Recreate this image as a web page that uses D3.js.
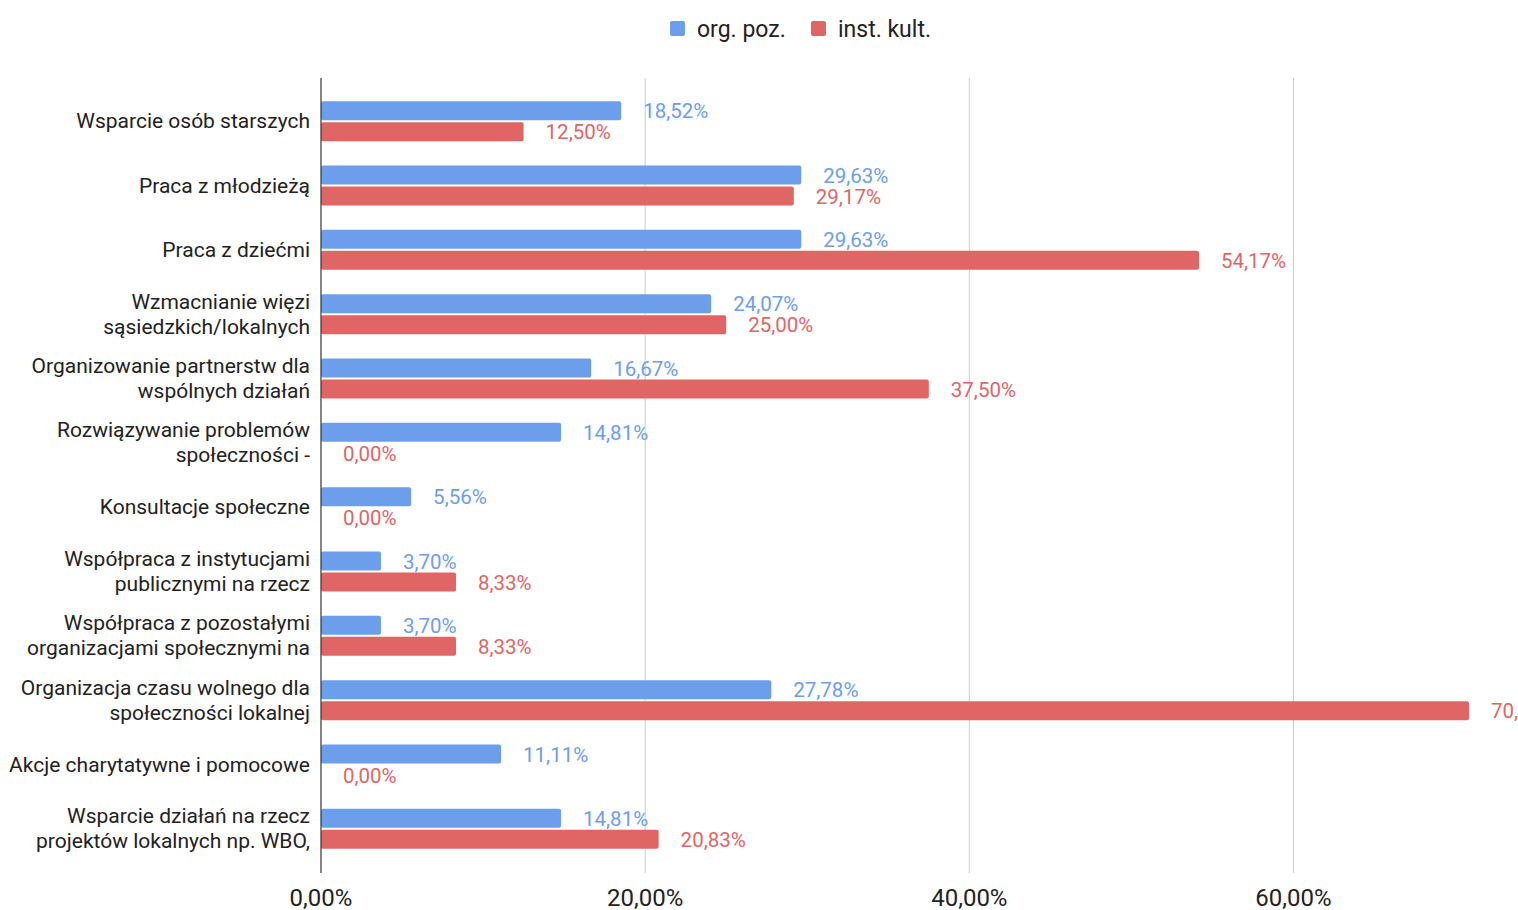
<!DOCTYPE html>
<html>
<head>
<meta charset="utf-8">
<script src="https://cdn.jsdelivr.net/npm/d3@7"></script>
<style>
  html, body { margin: 0; padding: 0; background: #fff; overflow: hidden; }
  svg { display: block; font-family: Roboto, "Noto Sans", sans-serif; }
</style>
</head>
<body>
<svg id="chart" width="1518" height="910"></svg>
<script>
// Categories (each may wrap onto two lines)
const categories = [
  ["Wsparcie osób starszych"],
  ["Praca z młodzieżą"],
  ["Praca z dziećmi"],
  ["Wzmacnianie więzi", "sąsiedzkich/lokalnych"],
  ["Organizowanie partnerstw dla", "wspólnych działań"],
  ["Rozwiązywanie problemów", "społeczności -"],
  ["Konsultacje społeczne"],
  ["Współpraca z instytucjami", "publicznymi na rzecz"],
  ["Współpraca z pozostałymi", "organizacjami społecznymi na"],
  ["Organizacja czasu wolnego dla", "społeczności lokalnej"],
  ["Akcje charytatywne i pomocowe"],
  ["Wsparcie działań na rzecz", "projektów lokalnych np. WBO,"]
];
const seriesNames = ["org. poz.", "inst. kult."];
const orgPoz   = [18.52, 29.63, 29.63, 24.07, 16.67, 14.81, 5.56, 3.70, 3.70, 27.78, 11.11, 14.81];
const instKult = [12.50, 29.17, 54.17, 25.00, 37.50, 0.00, 0.00, 8.33, 8.33, 70.83, 0.00, 20.83];
const tickValues = [0, 20, 40, 60];

const colors = ["#6d9eeb", "#e06666"];
const series = [orgPoz, instKult];
const fmt = v => v.toFixed(2).replace(".", ",") + "%";

const svg = d3.select("#chart");
const plotTop = 78, plotBottom = 873;

const x = d3.scaleLinear().domain([0, 60]).range([321, 1293.5]);
const y = d3.scaleBand()
  .domain(d3.range(categories.length))
  .range([89, 861]);
const barH = 19, gap = 2;

// Vertical gridlines
svg.append("g")
  .selectAll("line")
  .data(tickValues.filter(d => d > 0))
  .join("line")
  .attr("x1", d => x(d)).attr("x2", d => x(d))
  .attr("y1", plotTop).attr("y2", plotBottom)
  .attr("stroke", "#cccccc").attr("stroke-width", 1);

// Bars
series.forEach((vals, s) => {
  svg.append("g")
    .selectAll("rect")
    .data(vals)
    .join("rect")
    .attr("x", x(0))
    .attr("y", (d, i) => {
      const c = y(i) + y.bandwidth() / 2;
      return s === 0 ? c - gap / 2 - barH : c + gap / 2;
    })
    .attr("width", d => Math.max(0, x(d) - x(0)))
    .attr("height", barH)
    .attr("rx", 2)
    .attr("fill", colors[s]);

  // Value labels
  svg.append("g")
    .selectAll("text")
    .data(vals)
    .join("text")
    .attr("x", d => x(d) + 22)
    .attr("y", (d, i) => {
      const c = y(i) + y.bandwidth() / 2;
      return s === 0 ? c - 10 + 7 : c + 11 + 7;
    })
    .attr("font-size", 20.5)
    .attr("fill", colors[s])
    .text(d => fmt(d));
});

// Zero axis line
svg.append("line")
  .attr("x1", x(0)).attr("x2", x(0))
  .attr("y1", plotTop).attr("y2", plotBottom)
  .attr("stroke", "#333333").attr("stroke-width", 1.2);

// Category labels
const catG = svg.append("g");
categories.forEach((lines, i) => {
  const c = y(i) + y.bandwidth() / 2;
  const lh = 25;
  const t = catG.append("text")
    .attr("text-anchor", "end")
    .attr("font-size", 21)
    .attr("fill", "#222222");
  lines.forEach((ln, k) => {
    t.append("tspan")
      .attr("x", 310)
      .attr("y", c + 7 + (k - (lines.length - 1) / 2) * lh)
      .text(ln);
  });
});

// X tick labels
svg.append("g")
  .selectAll("text")
  .data(tickValues)
  .join("text")
  .attr("x", d => x(d))
  .attr("y", 906)
  .attr("text-anchor", "middle")
  .attr("font-size", 24)
  .attr("fill", "#222222")
  .text(d => d.toFixed(2).replace(".", ",") + "%");

// Legend
const legend = svg.append("g");
const legendItems = [{ x: 670, name: seriesNames[0], c: colors[0] }, { x: 811, name: seriesNames[1], c: colors[1] }];
legendItems.forEach(it => {
  legend.append("rect")
    .attr("x", it.x).attr("y", 21).attr("width", 15).attr("height", 15)
    .attr("rx", 2).attr("fill", it.c);
  legend.append("text")
    .attr("x", it.x + 27).attr("y", 37)
    .attr("font-size", 23).attr("fill", "#222222")
    .text(it.name);
});
</script>
</body>
</html>
